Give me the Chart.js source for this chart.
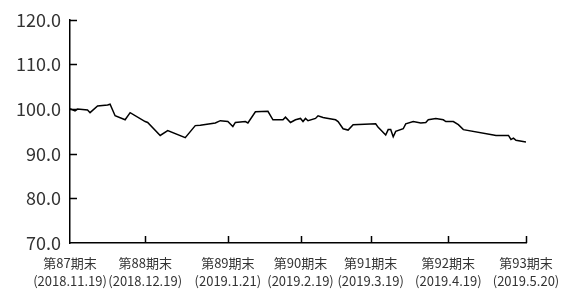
<!DOCTYPE html>
<html>
<head>
<meta charset="utf-8">
<script src="https://cdn.jsdelivr.net/npm/chart.js@4/dist/chart.umd.min.js"></script>
<style>
  html, body { margin: 0; padding: 0; background: #fff; }
  #wrap { width: 561px; height: 291px; position: relative; }
</style>
</head>
<body>
<div id="wrap"><canvas id="chart"></canvas></div>
<script>
// days counted from 2018.11.19
const days = [0, 2, 3, 7, 8, 11, 15, 16, 17, 18, 22, 24, 30, 31, 36, 39, 46, 50, 52, 58, 60, 63, 65, 66,
  70, 71, 74, 79, 81, 85, 86, 88, 90, 92, 93, 94, 95, 98, 99, 101, 102, 106, 107, 109, 111, 113,
  122, 123, 126, 127, 128, 129, 130, 133, 134, 137, 140, 142, 143, 146, 149, 150, 153, 155, 157,
  169, 170, 175, 176, 177, 178, 182];
const values = [100.1, 99.6, 100.0, 99.8, 99.2, 100.7, 100.9, 101.1, 99.8, 98.5, 97.6, 99.2, 97.2, 97.0,
  94.1, 95.2, 93.6, 96.3, 96.4, 96.9, 97.4, 97.2, 96.1, 97.0,
  97.2, 96.9, 99.4, 99.5, 97.6, 97.6, 98.2, 97.0, 97.6, 97.9, 97.2, 97.9, 97.4, 97.9, 98.5, 98.1, 98.0,
  97.6, 97.2, 95.6, 95.3, 96.5,
  96.7, 95.9, 94.2, 95.4, 95.4, 93.8, 95.0, 95.6, 96.7, 97.2, 96.9, 97.0, 97.6, 97.9, 97.6, 97.2,
  97.2, 96.5, 95.4,
  94.2, 94.1, 94.1, 93.2, 93.5, 93.0, 92.6];

const tickDays = [0, 30, 63, 92, 120, 151, 182];
const tickPeriods = ["第87期末", "第88期末", "第89期末", "第90期末", "第91期末", "第92期末", "第93期末"];
const tickDates = ["(2018.11.19)", "(2018.12.19)", "(2019.1.21)", "(2019.2.19)", "(2019.3.19)", "(2019.4.19)", "(2019.5.20)"];
const yTicks = [70, 80, 90, 100, 110, 120];

const points = days.map((d, i) => ({ x: d, y: values[i] }));

// short tick marks pointing into the plot
const innerTicks = {
  id: "innerTicks",
  afterDraw(chart) {
    const ctx = chart.ctx;
    const xs = chart.scales.x;
    const ys = chart.scales.y;
    const area = chart.chartArea;
    ctx.save();
    ctx.strokeStyle = "#000";
    ctx.lineWidth = 1.5;
    ctx.beginPath();
    yTicks.slice(1).forEach(v => {
      const y = Math.round(ys.getPixelForValue(v)) + 0.5;
      ctx.moveTo(area.left, y);
      ctx.lineTo(area.left + 7, y);
    });
    tickDays.slice(1).forEach(d => {
      const x = Math.round(xs.getPixelForValue(d)) + 0.5;
      ctx.moveTo(x, area.bottom);
      ctx.lineTo(x, area.bottom - 7);
    });
    ctx.stroke();
    ctx.restore();
  }
};

new Chart(document.getElementById("chart"), {
  type: "line",
  data: {
    datasets: [{
      data: points,
      borderColor: "#000",
      borderWidth: 1.5,
      pointRadius: 0,
      tension: 0,
      fill: false
    }]
  },
  options: {
    responsive: true,
    maintainAspectRatio: false,
    animation: false,
    layout: { padding: { top: 17, right: 35, left: 0, bottom: 0 } },
    plugins: { legend: { display: false }, tooltip: { enabled: false } },
    scales: {
      x: {
        type: "linear",
        min: 0,
        max: 182,
        afterBuildTicks: (scale) => { scale.ticks = tickDays.map(v => ({ value: v })); },
        afterFit: (scale) => {
          scale.height = 48;
          scale.paddingLeft = 0;
          scale.paddingRight = 0;
        },
        grid: { display: false, drawTicks: false },
        border: { display: true, color: "#000", width: 1.5 },
        ticks: {
          autoSkip: false,
          maxRotation: 0,
          padding: 11,
          color: "#333",
          font: { family: "'Noto Sans CJK JP', 'Noto Sans'", size: 13, lineHeight: 1.4 },
          callback: (v, i) => [tickPeriods[i], tickDates[i]]
        }
      },
      y: {
        min: 70,
        max: 120,
        afterBuildTicks: (scale) => { scale.ticks = yTicks.map(v => ({ value: v })); },
        afterFit: (scale) => { scale.width = 70; },
        grid: { display: false, drawTicks: false },
        border: { display: true, color: "#000", width: 1.5 },
        ticks: {
          padding: 9,
          color: "#333",
          font: { family: "'Noto Sans CJK JP', 'Noto Sans'", size: 18 },
          callback: (v) => v.toFixed(1)
        }
      }
    }
  },
  plugins: [innerTicks]
});
</script>
</body>
</html>
